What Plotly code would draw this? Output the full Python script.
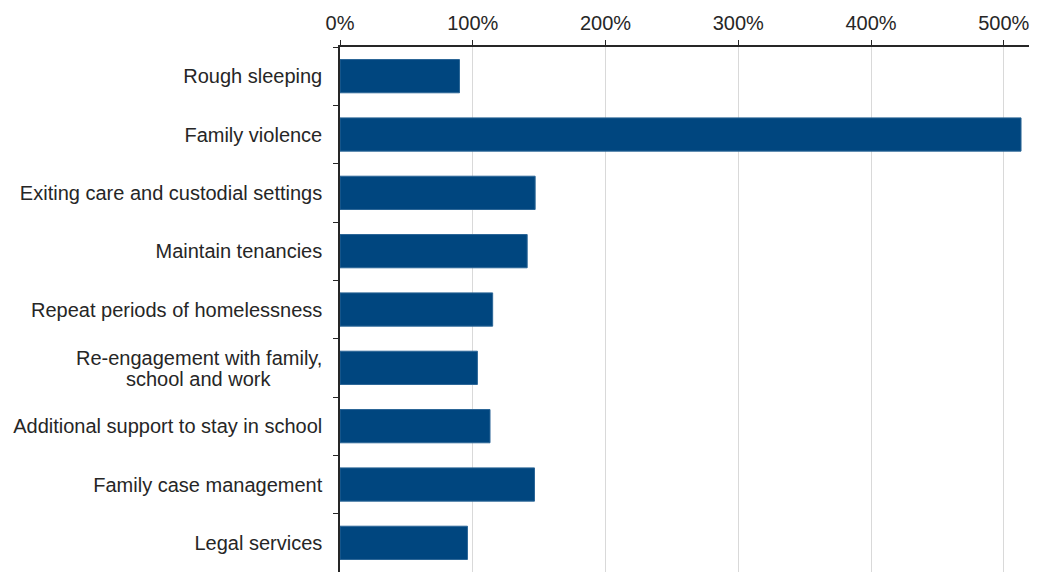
import plotly.graph_objects as go

categories = [
    "Rough sleeping",
    "Family violence",
    "Exiting care and custodial settings",
    "Maintain tenancies",
    "Repeat periods of homelessness",
    "Re-engagement with family, school and work",
    "Additional support to stay in school",
    "Family case management",
    "Legal services",
]
values = [90, 513, 147, 141, 115, 103.5, 113, 146.5, 96]
tick_vals = [0, 100, 200, 300, 400, 500]
tick_text = ["0%", "100%", "200%", "300%", "400%", "500%"]

# two-line label drawn as centered annotation lines
wrapped_cat = "Re-engagement with family, school and work"
wrapped_lines = ["Re-engagement with family,", "school and work"]

fig = go.Figure(
    go.Bar(
        x=values,
        y=categories,
        orientation="h",
        width=0.57,
        marker=dict(color="#00467f", line=dict(color="#2a6596", width=1)),
    )
)

fig.update_layout(
    width=1041,
    height=572,
    margin=dict(l=340, r=12, t=47, b=0),
    paper_bgcolor="white",
    plot_bgcolor="white",
    showlegend=False,
    font=dict(family="Liberation Sans, Arial, sans-serif", size=20, color="#262626"),
)

fig.update_xaxes(
    side="top",
    range=[0, 519],
    tickvals=tick_vals,
    ticktext=tick_text,
    showgrid=True,
    gridcolor="#d9d9d9",
    gridwidth=1,
    zeroline=False,
    showline=True,
    linecolor="#262626",
    linewidth=1.5,
    ticks="outside",
    ticklen=5,
    tickcolor="#262626",
    tickfont=dict(size=20),
    ticklabelstandoff=2,
)

fig.update_yaxes(
    autorange="reversed",
    type="category",
    tickvals=categories,
    ticktext=["" if c == wrapped_cat else c for c in categories],
    showline=True,
    linecolor="#262626",
    linewidth=1.5,
    ticks="outside",
    tickson="boundaries",
    ticklen=5,
    tickcolor="#262626",
    showgrid=False,
    tickfont=dict(size=20),
    ticklabelstandoff=12,
)

for line, shift in zip(wrapped_lines, [10, -11]):
    fig.add_annotation(
        text=line,
        xref="paper",
        x=-141 / 689,
        xanchor="center",
        yref="y",
        y=wrapped_cat,
        yanchor="middle",
        yshift=shift,
        showarrow=False,
        font=dict(size=20, color="#262626"),
    )

fig.write_html("out.html")
